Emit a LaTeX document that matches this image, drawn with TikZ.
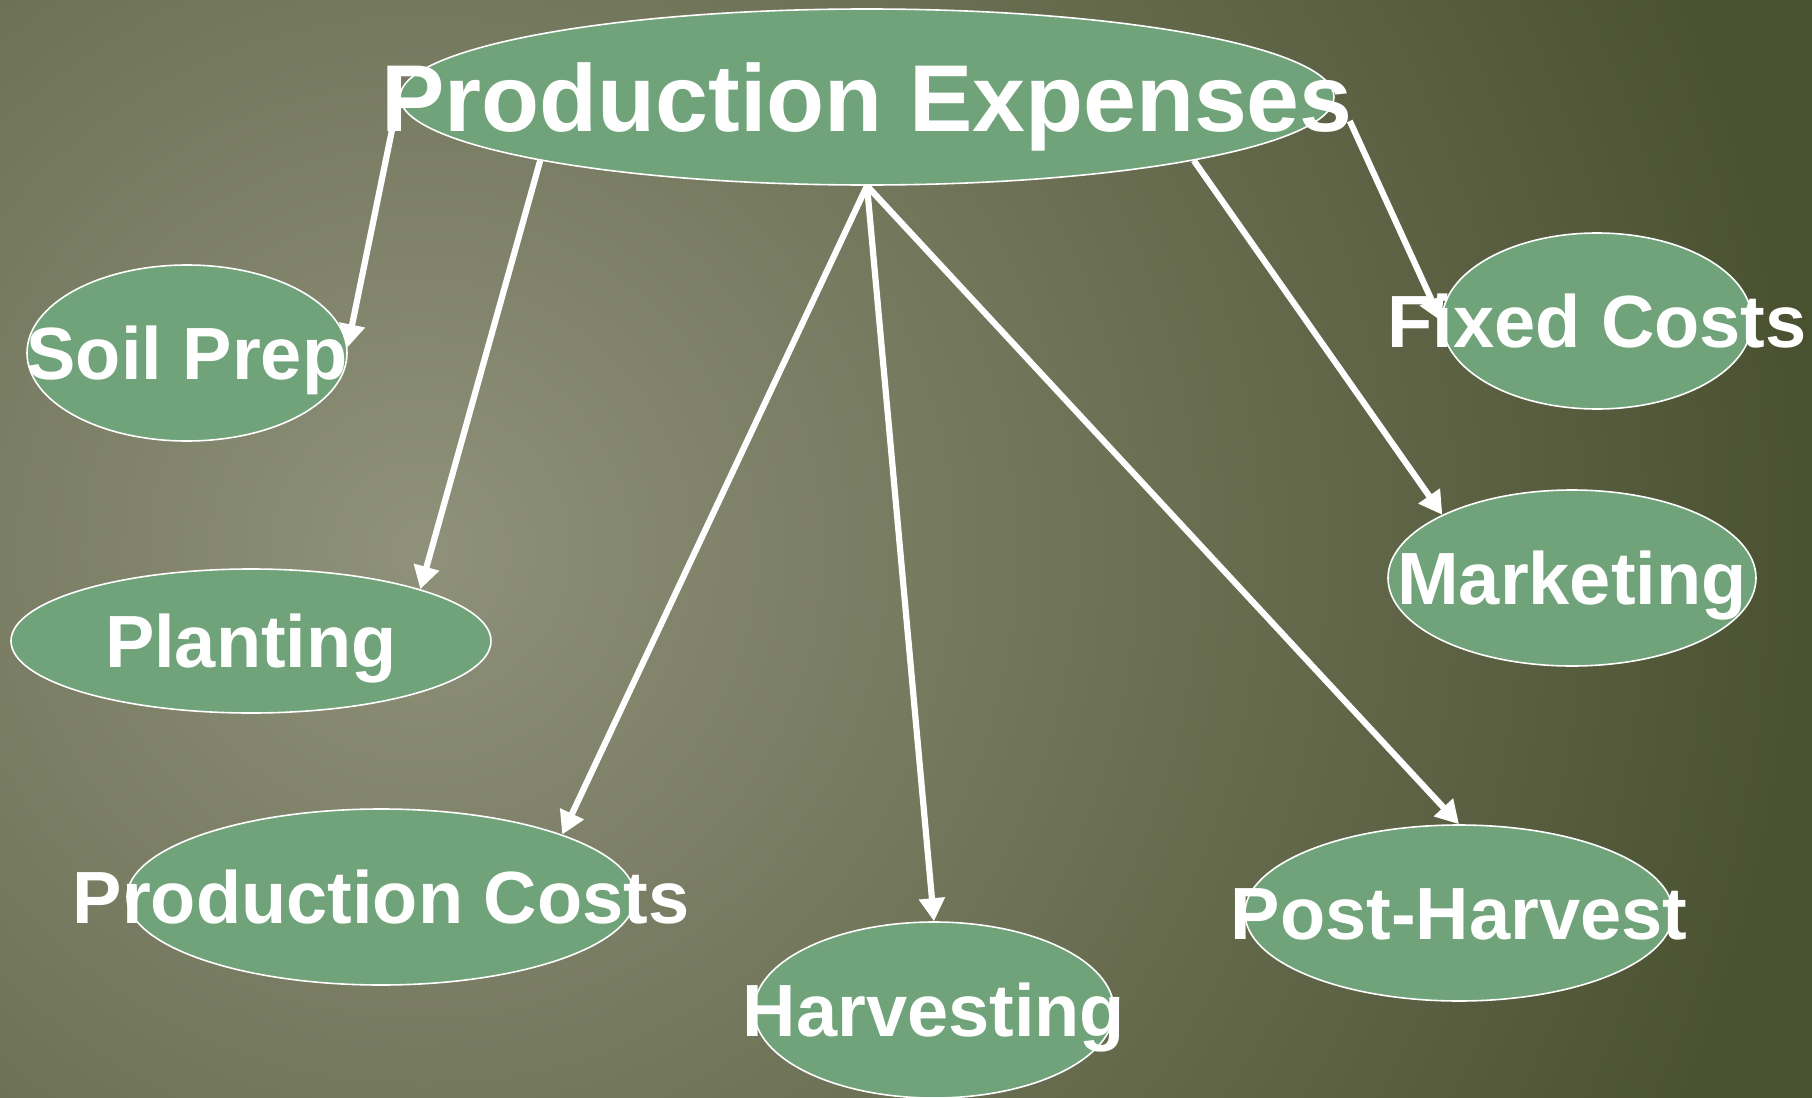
\documentclass[tikz,border=0pt]{standalone}
\usepackage{fontspec}
\setmainfont{Liberation Sans}
\usetikzlibrary{shapes.geometric,arrows.meta}
\definecolor{leaf}{RGB}{112,163,121}
\definecolor{bglight}{RGB}{143,145,122}
\definecolor{bgdark}{RGB}{74,81,48}

\tikzset{
  bubble/.style={ellipse, draw=white, line width=0.8pt, fill=leaf, inner sep=0pt},
  word/.style={text=white, font=\bfseries\fontsize{37}{40}\selectfont, inner sep=0pt, text height=26.5pt, text depth=0pt},
  link/.style={draw=white, line width=3.1pt, -{Triangle[length=11.5pt,width=12.5pt]}}
}

\begin{document}
\begin{tikzpicture}[x=0.5pt,y=-0.5pt]

\useasboundingbox (0,0) rectangle (1812,1098);
\fill[bgdark] (0,0) rectangle (1812,1098);
\begin{scope}
\clip (0,0) rectangle (1812,1098);
\shade[inner color=bglight, outer color=bgdark] (420,550) circle (700pt);
\end{scope}

% ellipses
\node[bubble, minimum width=467pt, minimum height=88pt] (main) at (867,97) {};
\node[bubble, minimum width=160pt, minimum height=88pt] (soil) at (187,353) {};
\node[bubble, minimum width=240pt, minimum height=72pt] (plant) at (251,641) {};
\node[bubble, minimum width=254pt, minimum height=88pt] (pcost) at (381,897) {};
\node[bubble, minimum width=180pt, minimum height=88pt] (harvest) at (934,1010) {};
\node[bubble, minimum width=214pt, minimum height=88pt] (post) at (1459,913) {};
\node[bubble, minimum width=184pt, minimum height=88pt] (market) at (1572,578) {};
\node[bubble, minimum width=155pt, minimum height=88pt] (fixed) at (1597,321) {};

\coordinate (mainleft) at ([shift={(-7,32)}]main.west);
\coordinate (mainright) at ([shift={(15,24)}]main.east);

% arrows
\draw[link] (mainleft) -- (soil.2);
\draw[link] (main.191) -- (plant.17);
\foreach \t in {pcost.19,harvest.north,post.north}
{
\draw[link] (main.south) -- (\t);
}
\draw[link] (main.349) -- (market.154);
\draw[link] (mainright) -- (fixed.180);

% texts
\node[word, font=\bfseries\fontsize{47.5}{50}\selectfont, text height=34pt] (tmain) at (main) {Production Expenses};
\node[word] (tsoil) at (soil) {Soil Prep};
\node[word] (tplant) at (plant) {Planting};
\node[word] (tpcost) at (pcost) {Production Costs};
\node[word] (tharvest) at (harvest) {Harvesting};
\node[word] (tpost) at (post) {Post-Harvest};
\node[word] (tmarket) at (market) {Marketing};
\node[word] (tfixed) at (fixed) {Fixed Costs};
\end{tikzpicture}
\end{document}
